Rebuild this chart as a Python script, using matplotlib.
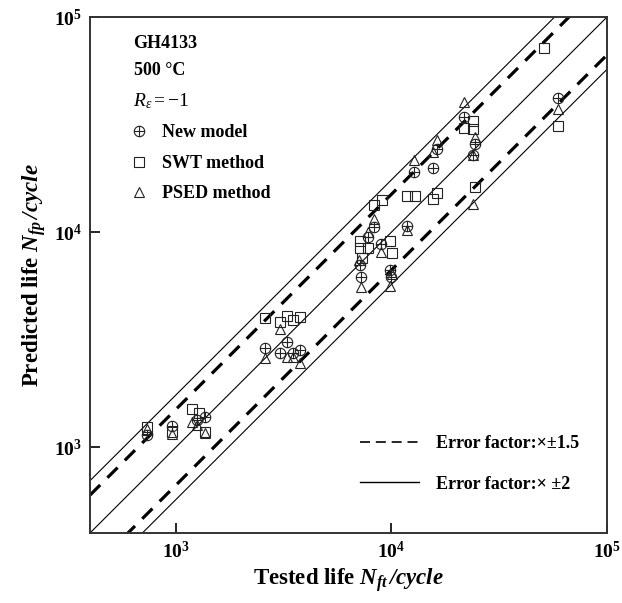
import matplotlib
matplotlib.use('Agg')
import matplotlib.pyplot as plt
from matplotlib.path import Path
from matplotlib.lines import Line2D
from matplotlib.ticker import LogLocator, FuncFormatter, NullLocator
import numpy as np

# 试验寿命 / 预测寿命
new_x = [733, 960, 1252, 1364, 2594, 3045, 3283, 3501, 3773, 7176, 7253, 7817, 8334,
         8984, 9893, 10000, 11870, 12793, 15676, 16190, 21620, 24320, 23810, 59160]
new_y = [1136, 1251, 1334, 1377, 2904, 2754, 3096, 2754, 2843, 7035, 6191, 9482, 10546,
         8799, 6670, 6191, 10660, 18960, 19790, 24480, 34440, 25820, 22730, 42170]

swt_x = [733, 960, 1187, 1280, 1364, 2594, 3045, 3283, 3501, 3773, 7176, 7176, 7331,
         7817, 8334, 9082, 9893, 10108, 11870, 12930, 15676, 16190, 21620, 23810, 23810,
         24320, 50930, 59160]
swt_y = [1238, 1173, 1500, 1452, 1173, 4000, 3831, 4084, 3913, 4042, 9085, 8432, 7578,
         8432, 13335, 14065, 9085, 7993, 14678, 14678, 14220, 15160, 30630, 33000, 30300,
         16160, 71870, 31290]

psed_x = [733, 960, 1187, 1252, 1364, 2594, 3045, 3283, 3501, 3773, 7100, 7253, 7817,
          8334, 8984, 9893, 10108, 11870, 12793, 15676, 16190, 21620, 24320, 23810, 23810,
          59160]
psed_y = [1211, 1148, 1305, 1270, 1160, 2610, 3556, 2638, 2638, 2475, 7421, 5564, 10000,
          11487, 8079, 5623, 6400, 10216, 21540, 23460, 26960, 40420, 27830, 22730, 13480,
          37510]

line_x = [400, 100000]
dash_factor = 1.5
solid_factor = 1.75

plt.rcParams['font.family'] = ['Liberation Serif', 'DejaVu Serif']
plt.rcParams['mathtext.fontset'] = 'custom'
plt.rcParams['mathtext.rm'] = 'Liberation Serif'
plt.rcParams['mathtext.it'] = 'Liberation Serif:italic'
plt.rcParams['mathtext.bf'] = 'Liberation Serif:bold'
plt.rcParams['mathtext.bfit'] = 'Liberation Serif:bold:italic'

# ⊕ 标记
oplus = Path.make_compound_path(
    Path.unit_circle(),
    Path([[-1, 0], [1, 0]], [Path.MOVETO, Path.LINETO]),
    Path([[0, -1], [0, 1]], [Path.MOVETO, Path.LINETO]))

fig = plt.figure(figsize=(6.22, 6.03), dpi=100)
ax = fig.add_axes([0.1447, 0.1161, 0.8312, 0.8557])
ax.set_xscale('log')
ax.set_yscale('log')

lx = np.array(line_x, dtype=float)
ax.plot(lx, lx, color='black', lw=0.8)
ax.plot(lx, lx * solid_factor, color='black', lw=0.8)
ax.plot(lx, lx / solid_factor, color='black', lw=0.8)
ax.plot(lx, lx * dash_factor, color='black', lw=2.3, dashes=(4.5, 3.2))
ax.plot(lx, lx / dash_factor, color='black', lw=2.3, dashes=(4.5, 3.2))

mk = dict(ls='none', mfc='none', mec='#222222', mew=0.8, ms=7.5, zorder=3)
h1, = ax.plot(new_x, new_y, marker=oplus, label='New model', **mk)
h2, = ax.plot(swt_x, swt_y, marker='s', label='SWT method', **mk)
h3, = ax.plot(psed_x, psed_y, marker='^', label='PSED method', **mk)

ax.set_xlim(400, 1e5)
ax.set_ylim(400, 1e5)

fmt = FuncFormatter(lambda v, p: r'$\mathbf{10}^{\mathbf{%d}}$' % round(np.log10(v)))
for axis in (ax.xaxis, ax.yaxis):
    axis.set_major_locator(LogLocator(base=10, numticks=10))
    axis.set_minor_locator(NullLocator())
    axis.set_major_formatter(fmt)
ax.tick_params(which='major', direction='in', length=7, width=1.2, labelsize=14,
               top=False, right=False, pad=6)

for sp in ax.spines.values():
    sp.set_linewidth(1.4)
    sp.set_color('#333333')

ax.set_xlabel(r'$\mathbf{Tested\ life}\ \mathbfit{N}_{\mathbfit{ft}}\,\mathbfit{/cycle}$',
              fontsize=16.5, labelpad=3)
ax.set_ylabel(r'$\mathbf{Predicted\ life}\ \mathbfit{N}_{\mathbfit{fp}}\,\mathbfit{/cycle}$',
              fontsize=16.5, labelpad=4)

ax.text(0.083, 0.948, 'GH4133', transform=ax.transAxes, fontsize=13,
        fontweight='bold', va='center')
ax.text(0.085, 0.897, '500 °C', transform=ax.transAxes, fontsize=13,
        fontweight='bold', va='center')
ax.text(0.083, 0.837, r'$R_{\varepsilon} = -1$', transform=ax.transAxes, fontsize=14,
        va='center')

leg1 = ax.legend(handles=[h1, h2, h3], loc='upper left', bbox_to_anchor=(0.078, 0.792),
                 frameon=False, prop={'size': 13, 'weight': 'bold'},
                 handlelength=1.0, handletextpad=0.75, labelspacing=0.75,
                 borderpad=0, borderaxespad=0)
ax.add_artist(leg1)

err_handles = [Line2D([], [], color='black', lw=1.2, dashes=(6, 3.5)),
               Line2D([], [], color='black', lw=1.0)]
ax.legend(handles=err_handles, labels=['Error factor:×±1.5', 'Error factor:× ±2'],
          loc='lower left', bbox_to_anchor=(0.522, 0.078), frameon=False,
          prop={'size': 13, 'weight': 'bold'}, handlelength=3.3, handletextpad=0.9,
          labelspacing=1.3, borderpad=0, borderaxespad=0)

plt.savefig('out.png', dpi=100)
